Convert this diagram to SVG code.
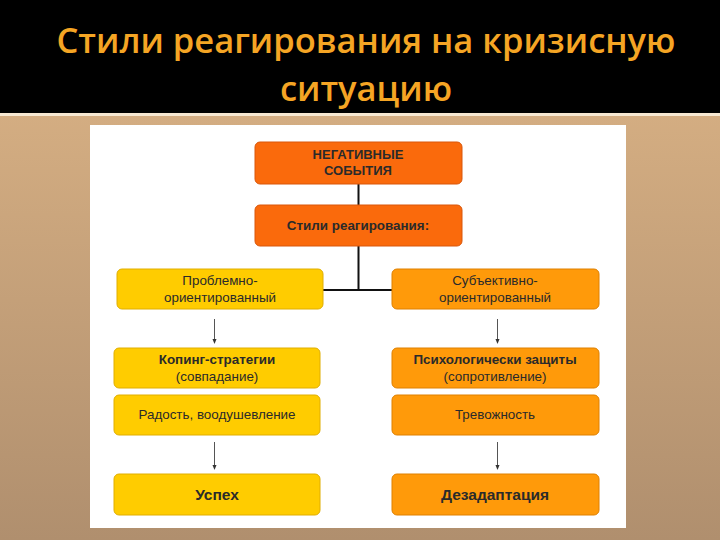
<svg xmlns="http://www.w3.org/2000/svg" width="720" height="540" viewBox="0 0 720 540">
<defs>
<linearGradient id="bg" x1="0" y1="0" x2="0" y2="1">
<stop offset="0" stop-color="#DDB587"/>
<stop offset="1" stop-color="#B08F6E"/>
</linearGradient>
<marker id="ah" markerWidth="6" markerHeight="6" refX="3" refY="3" orient="auto" markerUnits="userSpaceOnUse">
<path d="M0,1 L5,3 L0,5 Z" fill="#333"/>
</marker>
<style>
.title{font-family:"Open Sans","Noto Sans",sans-serif;font-size:34.5px;font-weight:600;fill:#F5A524;text-anchor:middle}
.t{font-family:"Liberation Sans",Arial,sans-serif;font-size:13.4px;fill:#2a2a2a;text-anchor:middle}
.b{font-weight:bold}
.s12{font-size:13px}
.big{font-size:15.5px}
.red{fill:#FA6A0C;stroke:#D9560A;stroke-width:1}
.yel{fill:#FFCC00;stroke:#E0AE00;stroke-width:1}
.org{fill:#FF9A0A;stroke:#DF8000;stroke-width:1}
.conn{stroke:#111;stroke-width:2;fill:none}
.arr{stroke:#555;stroke-width:1;fill:none}
</style>
</defs>
<rect x="0" y="0" width="720" height="540" fill="url(#bg)"/>
<rect x="0" y="0" width="720" height="113" fill="#000"/>
<rect x="0" y="113" width="720" height="3" fill="#F6E8D2"/>
<text class="title" x="366" y="53">Стили реагирования на кризисную</text>
<text class="title" x="366" y="101">ситуацию</text>
<rect x="90" y="125" width="536" height="403" fill="#FFFFFF"/>
<g id="connectors">
<path class="conn" d="M358.5,184 V205"/>
<path class="conn" d="M358.5,246 V290 M323,290 H392"/>
<path class="arr" d="M214.5,319 V342" marker-end="url(#ah)"/>
<path class="arr" d="M497.5,319 V342" marker-end="url(#ah)"/>
<path class="arr" d="M214.5,442 V468" marker-end="url(#ah)"/>
<path class="arr" d="M497.5,442 V468" marker-end="url(#ah)"/>
</g>
<g id="n1">
<rect class="red" x="255" y="142" width="207" height="42" rx="5"/>
<text class="t b s12" x="358" y="159">НЕГАТИВНЫЕ</text>
<text class="t b s12" x="358" y="175">СОБЫТИЯ</text>
</g>
<g id="n2">
<rect class="red" x="255" y="205" width="207" height="41" rx="5"/>
<text class="t" x="358" y="230" style="font-weight:600">Стили реагирования:</text>
</g>
<g id="n3">
<rect class="yel" x="117" y="269" width="206" height="40" rx="5"/>
<text class="t" x="220" y="285">Проблемно-</text>
<text class="t" x="220" y="302">ориентированный</text>
</g>
<g id="n4">
<rect class="org" x="392" y="269" width="207" height="40" rx="5"/>
<text class="t" x="495" y="285">Субъективно-</text>
<text class="t" x="495" y="302">ориентированный</text>
</g>
<g id="n5">
<rect class="yel" x="114" y="348" width="206" height="40" rx="5"/>
<text class="t b" x="217" y="364">Копинг-стратегии</text>
<text class="t" x="217" y="381">(совпадание)</text>
</g>
<g id="n6">
<rect class="yel" x="114" y="395" width="206" height="40" rx="5"/>
<text class="t" x="217" y="419">Радость, воодушевление</text>
</g>
<g id="n7">
<rect class="yel" x="114" y="474" width="206" height="41" rx="5"/>
<text class="t b big" x="217" y="500">Успех</text>
</g>
<g id="n8">
<rect class="org" x="392" y="348" width="207" height="40" rx="5"/>
<text class="t b" x="495" y="364">Психологически защиты</text>
<text class="t" x="495" y="381">(сопротивление)</text>
</g>
<g id="n9">
<rect class="org" x="392" y="395" width="207" height="40" rx="5"/>
<text class="t" x="495" y="419">Тревожность</text>
</g>
<g id="n10">
<rect class="org" x="392" y="474" width="207" height="41" rx="5"/>
<text class="t b big" x="495" y="500">Дезадаптация</text>
</g>
</svg>
